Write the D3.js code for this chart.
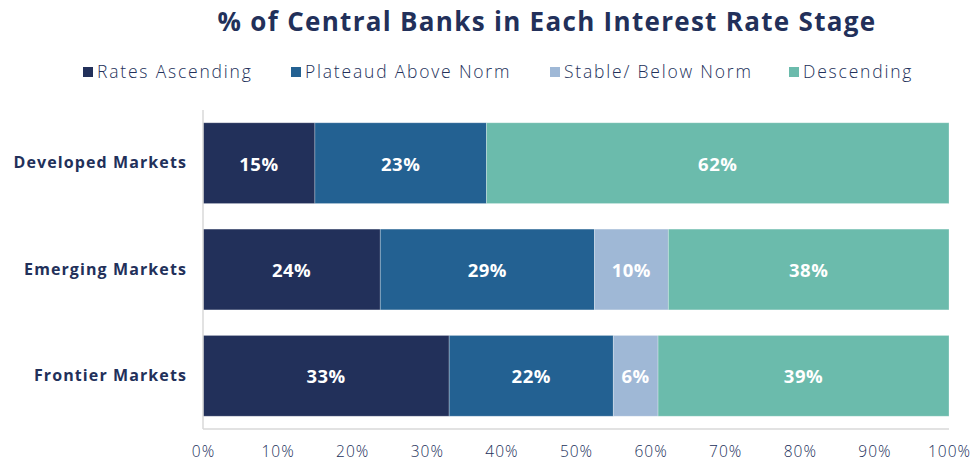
<!DOCTYPE html>
<html>
<head>
<meta charset="utf-8">
<script src="https://cdn.jsdelivr.net/npm/d3@7"></script>
<style>
  body { margin: 0; background: #fff; }
  text { font-family: "Open Sans", "Noto Sans", sans-serif; }
</style>
</head>
<body>
<div id="container"></div>
<script>
// data
var categories = ["Developed Markets", "Emerging Markets", "Frontier Markets"];
var stages = ["Rates Ascending", "Plateaud Above Norm", "Stable/ Below Norm", "Descending"];
var ratesAscending = [15, 24, 33];
var plateaudAboveNorm = [23, 29, 22];
var stableBelowNorm = [0, 10, 6];
var descending = [62, 38, 39];
var xTicks = [0, 0.1, 0.2, 0.3, 0.4, 0.5, 0.6, 0.7, 0.8, 0.9, 1];
var colors = ["#22305a", "#236192", "#9fb8d6", "#6bbbac"];

var W = 972, H = 463;
var margin = {top: 110, right: 23, bottom: 34, left: 203},
    width = W - margin.left - margin.right,
    height = H - margin.top - margin.bottom;

var rows = categories.map(function(c, i) {
  return {
    cat: c,
    "Rates Ascending": ratesAscending[i],
    "Plateaud Above Norm": plateaudAboveNorm[i],
    "Stable/ Below Norm": stableBelowNorm[i],
    "Descending": descending[i]
  };
});

// rows don't all add to 100 (rounding), so expand each to full width
var series = d3.stack()
  .keys(stages)
  .offset(d3.stackOffsetExpand)(rows);

var xScale = d3.scaleLinear().domain([0, 1]).range([0, width]);
var yScale = d3.scaleBand().domain(categories).range([0, height]).paddingInner(0.24).paddingOuter(0.12);
var color = d3.scaleOrdinal().domain(stages).range(colors);

var svg = d3.select("#container").append("svg")
  .attr("width", W).attr("height", H);

// title
svg.append("text")
  .attr("x", 547).attr("y", 31)
  .attr("text-anchor", "middle")
  .attr("font-size", 26).attr("font-weight", 700)
  .attr("letter-spacing", 1.3)
  .attr("fill", "#22305a")
  .text("% of Central Banks in Each Interest Rate Stage");

// legend
var legendX = [83, 291, 550, 789];
var legend = svg.append("g").selectAll("g")
  .data(stages).enter().append("g")
  .attr("transform", function(d, i) { return "translate(" + legendX[i] + ",72)"; });
legend.append("rect")
  .attr("x", 0).attr("y", -5).attr("width", 10).attr("height", 10)
  .attr("fill", function(d) { return color(d); });
legend.append("text")
  .attr("x", 14).attr("dy", "0.35em")
  .attr("font-size", 17.5).attr("font-weight", 300)
  .attr("letter-spacing", 1.8)
  .attr("fill", "#22305a")
  .text(function(d) { return d; });

var g = svg.append("g")
  .attr("transform", "translate(" + margin.left + "," + margin.top + ")");

// bars
var layer = g.selectAll(".layer")
  .data(series).enter().append("g")
  .attr("class", "layer")
  .attr("fill", function(d) { return color(d.key); });

layer.selectAll("rect")
  .data(function(d) { return d; })
  .enter().append("rect")
  .attr("x", function(d) { return xScale(d[0]); })
  .attr("y", function(d) { return yScale(d.data.cat); })
  .attr("width", function(d) { return xScale(d[1]) - xScale(d[0]); })
  .attr("height", yScale.bandwidth())
  .attr("stroke", "rgba(255,255,255,0.35)")
  .attr("stroke-width", 0.8);

// value labels
layer.selectAll("text")
  .data(function(d) { return d.map(function(v) { v.key = d.key; return v; }); })
  .enter().filter(function(d) { return d.data[d.key] > 0; })
  .append("text")
  .attr("x", function(d) { return xScale((d[0] + d[1]) / 2); })
  .attr("y", function(d) { return yScale(d.data.cat) + yScale.bandwidth() / 2 + 1; })
  .attr("dy", "0.35em")
  .attr("text-anchor", "middle")
  .attr("font-size", 18.5).attr("font-weight", 700)
  .attr("letter-spacing", 0.5)
  .attr("fill", "#fff")
  .text(function(d) { return d.data[d.key] + "%"; });

// axes lines
g.append("line")
  .attr("x1", 0).attr("x2", 0).attr("y1", 0).attr("y2", height)
  .attr("stroke", "#d9d9d9").attr("stroke-width", 1.5);
g.append("line")
  .attr("x1", 0).attr("x2", width).attr("y1", height).attr("y2", height)
  .attr("stroke", "#d9d9d9").attr("stroke-width", 1.5);

// x axis
var xAxis = g.append("g")
  .attr("transform", "translate(0," + height + ")")
  .call(d3.axisBottom(xScale).tickValues(xTicks).tickFormat(d3.format(".0%")).tickSize(0));
xAxis.select(".domain").remove();
xAxis.selectAll(".tick text")
  .attr("y", 23).attr("dy", "0.35em")
  .attr("font-size", 15.5).attr("font-weight", 300)
  .attr("letter-spacing", 1)
  .attr("font-family", "\"Open Sans\", sans-serif")
  .attr("fill", "#22305a");

// y axis
var yAxis = g.append("g")
  .call(d3.axisLeft(yScale).tickSize(0));
yAxis.select(".domain").remove();
yAxis.selectAll(".tick text")
  .attr("x", -16)
  .attr("font-size", 16).attr("font-weight", 700)
  .attr("letter-spacing", 1.1)
  .attr("font-family", "\"Open Sans\", sans-serif")
  .attr("fill", "#22305a");
</script>
</body>
</html>
